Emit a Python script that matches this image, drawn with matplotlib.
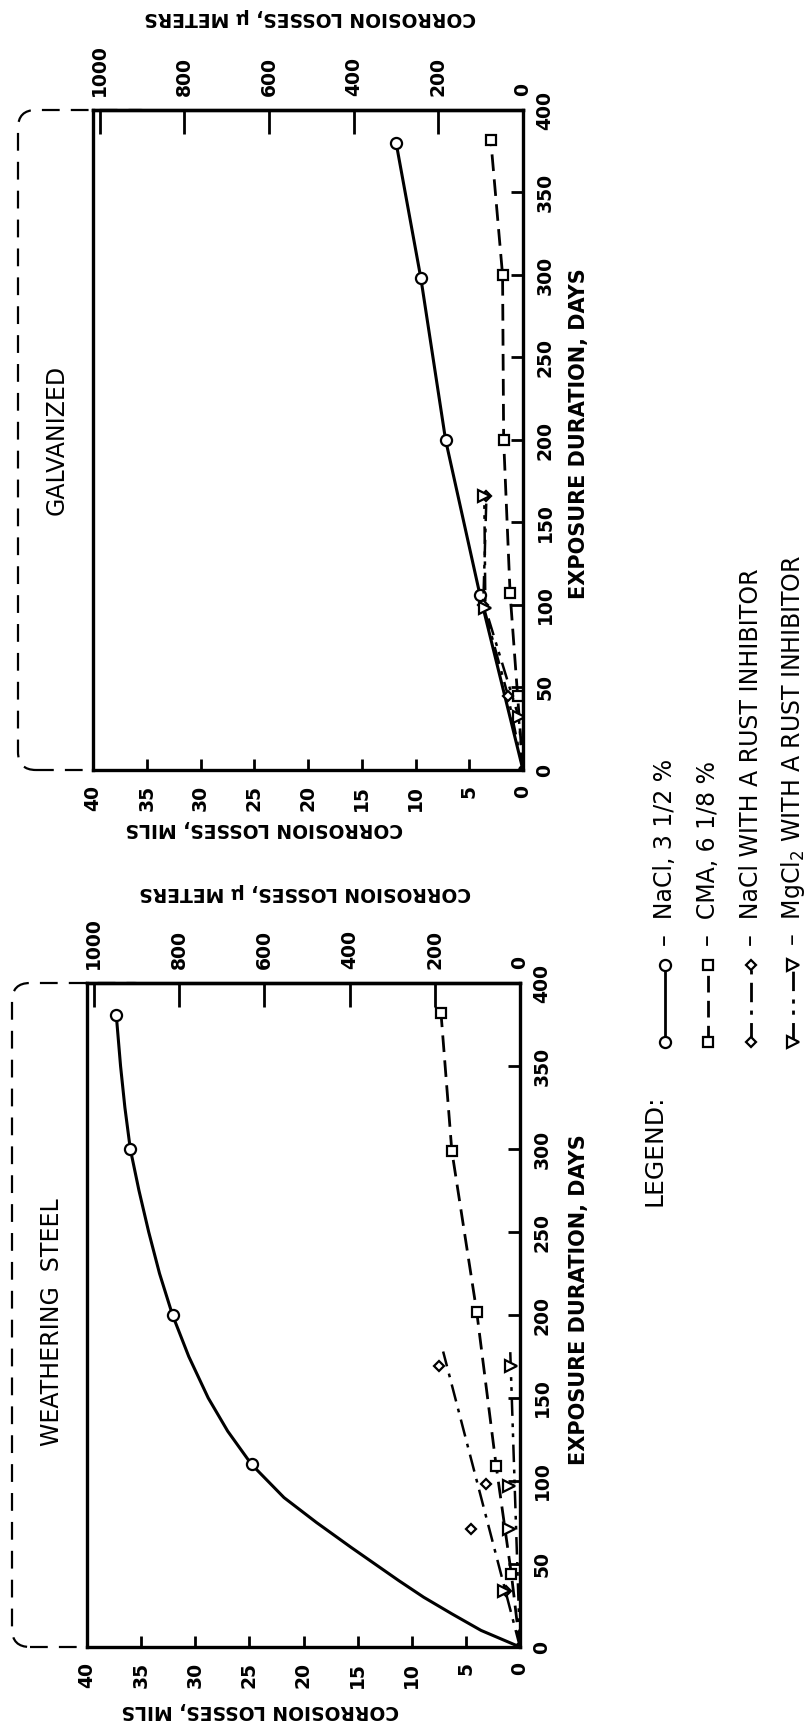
import matplotlib
matplotlib.use("Agg")
import matplotlib.pyplot as plt
from matplotlib.lines import Line2D
from matplotlib.patches import FancyBboxPatch
from matplotlib.transforms import IdentityTransform

days_ticks = [0, 50, 100, 150, 200, 250, 300, 350, 400]
mils_ticks = [0, 5, 10, 15, 20, 25, 30, 35, 40]
um_ticks = [0, 200, 400, 600, 800, 1000]

# galvanized
g_nacl_mils = [0, 4.0, 7.2, 9.5, 11.8]
g_nacl_days = [0, 106, 200, 298, 380]
g_cma_mils = [0, 0.5, 1.2, 1.8, 1.9, 3.0]
g_cma_days = [0, 45, 107, 200, 300, 382]
g_inh_mils = [0, 1.4, 3.7, 3.4]
g_inh_days = [0, 45, 100, 166]
g_mg_mils = [0, 0.4, 3.5, 3.6]
g_mg_days = [0, 32, 98, 166]

# weathering steel
w_nacl_mils = [24.8, 32.1, 36.0, 37.3]
w_nacl_days = [110, 200, 300, 381]
# points read along the drawn (fitted) curve
w_nacl_curve_mils = [0, 3.6, 6.3, 8.9, 11.2, 13.4, 15.6, 18.8, 21.8, 24.8, 27.0,
                     28.8, 30.6, 32.1, 33.3, 34.3, 35.2, 36.0, 36.5, 36.9, 37.3]
w_nacl_curve_days = [0, 10, 20, 30, 40, 50, 60, 75, 90, 110, 130,
                     150, 175, 200, 225, 250, 275, 300, 325, 350, 381]
w_cma_mils = [0, 0.8, 2.2, 4.0, 6.3, 7.3]
w_cma_days = [0, 44, 109, 202, 299, 382]
w_inh_mils = [1.3, 4.5, 3.15, 7.5]
w_inh_days = [34, 71, 98, 169]
w_inh_fit_mils = [0, 7.1]
w_inh_fit_days = [0, 178]
w_mg_mils = [1.5, 1.0, 1.0, 0.83]
w_mg_days = [34, 71, 97, 169]
w_mg_fit_mils = [0, 0.9]
w_mg_fit_days = [0, 178]

legend_labels = ["\u2013  NaCl, 3 1/2 %", "\u2013  CMA, 6 1/8 %",
                 "\u2013  NaCl WITH A RUST INHIBITOR",
                 "\u2013  MgCl$_2$ WITH A RUST INHIBITOR"]

W, H = 809, 1726
fig = plt.figure(figsize=(W / 100, H / 100), dpi=100)


def fx(x):
    return x / W


def fy(y):
    return 1 - y / H


bold = dict(family="DejaVu Sans", fontweight="bold")
dash = (0, (6, 3))
dashdot = (0, (7, 3, 1.5, 3))
dashdotdot = (0, (7, 3, 1.5, 2.5, 1.5, 3))
mk = dict(markerfacecolor="white", markeredgecolor="black", markeredgewidth=1.6)


def setup(ax):
    ax.set_xlim(40, 0)
    ax.set_ylim(0, 400)
    ax.set_xticks(mils_ticks)
    ax.set_yticks(days_ticks)
    ax.yaxis.tick_right()
    for s in ax.spines.values():
        s.set_linewidth(2.4)
    ax.tick_params(axis="y", direction="in", length=9, width=2, pad=9)
    ax.tick_params(axis="x", direction="in", length=8, width=2, pad=11)
    for t in ax.get_yticklabels():
        t.set_rotation(90)
        t.set_va("center")
        t.set_ha("left")
        t.set_fontsize(13.5)
        t.set_fontweight("bold")
    for t in ax.get_xticklabels():
        t.set_rotation(90)
        t.set_fontsize(13.5)
        t.set_fontweight("bold")
    sec = ax.secondary_xaxis("top", functions=(lambda m: m * 25.4, lambda u: u / 25.4))
    sec.set_xticks(um_ticks)
    sec.spines["top"].set_linewidth(2.4)
    sec.tick_params(direction="in", length=17, width=2, pad=10)
    for t in sec.get_xticklabels():
        t.set_rotation(90)
        t.set_fontsize(13.5)
        t.set_fontweight("bold")


# upper panel: galvanized
ax1 = fig.add_axes([fx(93), fy(770), fx(430), 660 / H])
setup(ax1)
ax1.plot(g_nacl_mils, g_nacl_days, "-", color="black", lw=2.2, marker="o", ms=8,
         markevery=slice(1, None), **mk)
ax1.plot(g_cma_mils, g_cma_days, color="black", lw=2, ls=dash, marker="s", ms=7,
         markevery=slice(1, None), **mk)
ax1.plot(g_inh_mils, g_inh_days, color="black", lw=1.8, ls=dashdot, marker="D", ms=5,
         markevery=slice(1, None), **mk)
ax1.plot(g_mg_mils, g_mg_days, color="black", lw=1.8, ls=dashdotdot, marker=">", ms=9,
         markevery=slice(1, None), **mk)
ax1.plot([0], [0], "o", color="black", ms=7)

# lower panel: weathering steel
ax2 = fig.add_axes([fx(87), fy(1647), fx(433), 664 / H])
setup(ax2)
ax2.plot(w_nacl_curve_mils, w_nacl_curve_days, "-", color="black", lw=2.2)
ax2.plot(w_nacl_mils, w_nacl_days, "o", ms=8, **mk)
ax2.plot(w_cma_mils, w_cma_days, color="black", lw=2, ls=dash, marker="s", ms=7,
         markevery=slice(1, None), **mk)
ax2.plot(w_inh_fit_mils, w_inh_fit_days, color="black", lw=1.8, ls=dashdot)
ax2.plot(w_inh_mils, w_inh_days, "D", ms=5, **mk)
ax2.plot(w_mg_fit_mils, w_mg_fit_days, color="black", lw=1.8, ls=dashdotdot)
ax2.plot(w_mg_mils, w_mg_days, ">", ms=9, **mk)
ax2.plot([0], [0], "o", color="black", ms=7)

# dashed title boxes to the left of each panel
for x0, top, bot in [(18, 110, 770), (12, 983, 1647)]:
    box = FancyBboxPatch((x0, H - bot), 140, bot - top,
                         boxstyle="round,pad=0,rounding_size=18",
                         fill=False, ls=(0, (8, 5)), lw=1.6, ec="black",
                         transform=IdentityTransform(), zorder=-1)
    fig.patches.append(box)

fig.text(fx(57), fy(440), "GALVANIZED", rotation=90, ha="center", va="center",
         fontsize=17, family="DejaVu Sans")
fig.text(fx(52), fy(1322), "WEATHERING  STEEL", rotation=90, ha="center", va="center",
         fontsize=17, family="DejaVu Sans")

# axis titles
fig.text(fx(310), fy(18), "CORROSION LOSSES, \u03bc METERS", rotation=180,
         ha="center", va="center", fontsize=13.5, **bold)
fig.text(fx(305), fy(892), "CORROSION LOSSES, \u03bc METERS", rotation=180,
         ha="center", va="center", fontsize=13.5, **bold)
fig.text(fx(264), fy(828), "CORROSION LOSSES, MILS", rotation=180,
         ha="center", va="center", fontsize=13.5, **bold)
fig.text(fx(260), fy(1710), "CORROSION LOSSES, MILS", rotation=180,
         ha="center", va="center", fontsize=13.5, **bold)
fig.text(fx(579), fy(434), "EXPOSURE DURATION, DAYS", rotation=90,
         ha="center", va="center", fontsize=15, **bold)
fig.text(fx(579), fy(1300), "EXPOSURE DURATION, DAYS", rotation=90,
         ha="center", va="center", fontsize=15, **bold)

# legend (drawn rotated, like the rest of the chart)
fig.text(fx(655), fy(1150), "LEGEND:", rotation=90, ha="center", va="center",
         fontsize=18, family="DejaVu Sans")
leg_x = [665, 708, 751, 793]
leg_styles = [("-", "o", 8), (dash, "s", 7), (dashdot, "D", 5), (dashdotdot, ">", 9)]
for xp, (ls, m, ms), lab in zip(leg_x, leg_styles, legend_labels):
    fig.add_artist(Line2D([fx(xp), fx(xp)], [fy(1042), fy(965)], color="black",
                          lw=2, ls=ls, marker=m, ms=ms, transform=fig.transFigure, **mk))
    fig.text(fx(xp), fy(946), lab, rotation=90, rotation_mode="anchor",
             ha="left", va="center", fontsize=17, family="DejaVu Sans")

fig.savefig("out.png", dpi=100)
